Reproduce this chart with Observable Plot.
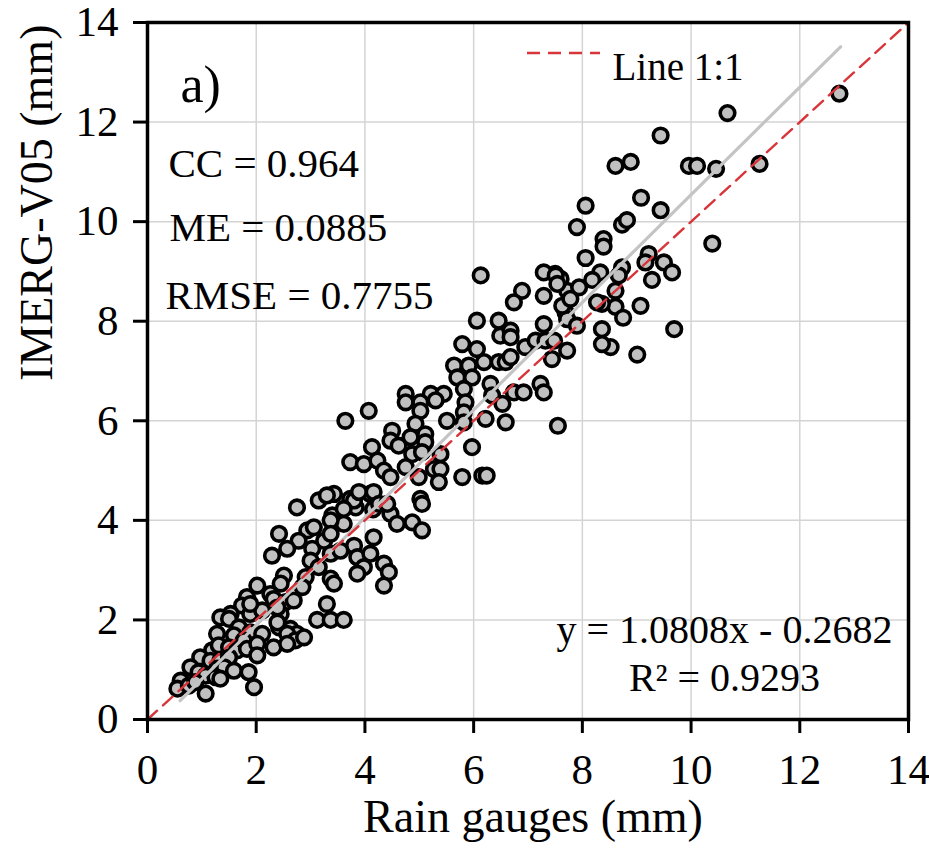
<!DOCTYPE html>
<html>
<head>
<meta charset="utf-8">
<script src="https://cdn.jsdelivr.net/npm/d3@7"></script>
<script src="https://cdn.jsdelivr.net/npm/@observablehq/plot@0.6"></script>
<style>
  html, body { margin: 0; padding: 0; background: #fff; }
  #chart { width: 929px; height: 856px; }
</style>
</head>
<body>
<div id="chart"></div>
<script>
// Rain gauge values (mm) — x
const gauge = [
12.73,10.67,9.44,8.61,8.89,9.96,10.11,10.46,11.26,8.06,9.08,9.44,7.90,8.73,8.82,8.39,8.39,10.39,8.06,7.50,
8.33,9.22,9.16,9.50,9.65,8.73,8.67,8.18,9.28,8.61,8.61,9.07,8.36,8.75,8.36,9.69,8.52,8.36,9.01,7.72,
7.94,7.60,8.27,7.69,7.72,7.90,7.72,7.55,6.13,7.29,7.51,7.54,6.89,6.74,7.29,7.63,7.78,6.06,6.46,6.49,
6.68,6.68,7.29,5.79,6.06,5.64,5.91,5.70,5.97,6.19,6.46,6.59,6.68,6.95,7.14,7.32,7.48,7.44,5.21,5.45,
5.82,5.85,6.31,6.34,6.74,6.92,7.23,7.29,5.51,5.82,5.82,6.22,6.53,6.59,4.75,4.75,5.02,5.02,5.30,4.07,
3.64,4.50,4.93,4.47,4.62,4.84,5.11,5.11,4.13,3.73,3.98,4.23,4.87,5.05,5.39,5.97,4.35,4.47,4.75,5.27,
5.39,4.99,5.36,5.79,6.16,6.24,3.43,3.73,3.83,4.10,5.02,5.05,4.15,4.47,3.40,3.61,4.59,4.87,2.75,3.15,
3.30,3.37,3.80,3.89,4.16,3.61,4.26,4.41,5.05,2.94,3.06,2.42,2.78,2.57,2.29,3.03,3.25,3.37,3.80,3.00,
3.15,3.37,3.55,3.86,3.98,4.10,4.16,4.35,4.44,3.86,4.35,3.37,3.43,2.91,2.85,2.51,2.45,2.02,2.26,2.32,
3.30,1.83,1.74,2.54,1.53,1.89,2.11,3.12,3.37,3.61,2.45,1.89,2.39,1.34,1.50,1.68,1.28,1.59,1.89,2.11,
2.42,2.63,2.75,2.69,2.39,2.57,2.72,2.88,1.19,1.31,1.50,1.65,1.77,1.83,2.02,2.02,2.32,2.57,0.97,1.16,
1.34,1.50,0.79,0.94,1.07,1.28,1.41,1.59,1.86,1.96,0.61,0.55,0.76,0.88,1.07,1.25,1.34
];
// IMERG-V05 values (mm) — y
const imerg = [
12.57,12.18,11.73,11.12,11.20,11.12,11.12,11.06,11.16,10.32,10.48,10.23,9.89,9.94,10.03,9.65,9.50,9.56,9.27,8.95,
8.98,9.35,9.18,9.18,8.98,9.08,8.92,8.83,8.83,8.61,8.29,8.31,8.35,8.07,7.84,7.84,7.48,7.54,7.33,8.61,
8.68,8.85,8.38,8.18,8.04,7.91,7.41,5.90,8.92,8.98,8.92,8.75,8.61,8.38,8.51,8.31,8.45,8.01,8.01,7.71,
7.81,7.68,7.94,7.54,7.44,7.11,7.11,6.87,6.87,7.18,7.18,7.18,7.28,7.48,7.61,7.61,7.61,7.24,6.54,6.54,
6.64,6.37,6.74,6.51,6.57,6.57,6.74,6.57,6.00,6.17,5.97,6.04,6.34,5.97,6.54,6.37,6.37,6.20,6.41,6.20,
6.00,5.80,5.94,5.60,5.50,5.67,5.73,5.57,5.47,5.17,5.13,5.20,5.33,5.37,5.33,5.47,5.00,4.87,5.07,5.03,
5.03,4.87,4.77,4.87,4.90,4.90,4.53,4.43,4.26,4.53,4.43,4.33,4.22,4.13,4.10,3.93,3.93,3.96,4.26,4.40,
4.50,4.00,4.40,4.57,4.57,4.23,4.33,4.33,3.80,3.80,3.86,3.73,3.59,3.43,3.29,3.43,3.59,3.73,3.49,3.19,
3.06,3.33,3.39,3.26,3.06,3.33,3.66,3.13,2.96,2.93,2.69,2.83,2.73,2.86,2.66,2.89,2.73,2.69,2.52,2.42,
2.32,2.46,2.29,2.36,2.12,2.12,2.19,2.00,2.00,2.00,2.12,2.32,2.25,2.05,2.02,1.85,1.72,1.69,1.75,1.72,
1.85,1.82,1.72,2.39,1.95,1.72,1.59,1.65,1.39,1.49,1.45,1.39,1.59,1.42,1.52,1.29,1.45,1.52,1.25,1.18,
1.18,1.25,1.05,0.95,0.88,1.02,1.05,0.98,0.95,0.65,0.78,0.62,0.68,0.75,0.52,0.85,0.82
];

const xTicks = [0, 2, 4, 6, 8, 10, 12, 14];
const yTicks = [0, 2, 4, 6, 8, 10, 12, 14];
const axisLimits = [0, 14];

// Fitted regression: y = 1.0808x - 0.2682, drawn over the range of the gauge data
const fitSlope = 1.0808;
const fitIntercept = -0.2682;
const fitRange = [0.6, 12.75];

const statsLines = ["CC = 0.964", "ME = 0.0885", "RMSE = 0.7755"];
const panelLabel = "a)";
const eqLines = ["y = 1.0808x - 0.2682", "R² = 0.9293"];
const legendLabel = "Line 1:1";
const xLabel = "Rain gauges (mm)";
const yLabel = "IMERG-V05 (mm)";

const points = gauge.map((g, i) => ({gauge: g, imerg: imerg[i]}));
const oneToOne = axisLimits.map(v => ({x: v, y: v}));
const fitLine = fitRange.map(v => ({x: v, y: fitSlope * v + fitIntercept}));

const FONT = "Liberation Serif, Times New Roman, serif";
const RED = "#d8353a";
const DASH = "13,8";

const plot = Plot.plot({
  width: 929,
  height: 856,
  marginLeft: 147,
  marginRight: 21,
  marginTop: 22,
  marginBottom: 137,
  style: {fontFamily: FONT, fontSize: "43px", color: "#000", background: "#fff", overflow: "visible"},
  x: {domain: axisLimits},
  y: {domain: axisLimits},
  marks: [
    Plot.gridX(xTicks, {stroke: "#d4d4d4", strokeOpacity: 1, strokeWidth: 1.5}),
    Plot.gridY(yTicks, {stroke: "#d4d4d4", strokeOpacity: 1, strokeWidth: 1.5}),
    Plot.dot(points, {x: "gauge", y: "imerg", r: 7.3, fill: "#c0c0c0", stroke: "#000", strokeWidth: 3.6}),
    Plot.line(fitLine, {x: "x", y: "y", stroke: "#c4c4c4", strokeWidth: 3.2}),
    Plot.line(oneToOne, {x: "x", y: "y", stroke: RED, strokeWidth: 2.4, strokeDasharray: DASH}),
    Plot.frame({stroke: "#000", strokeWidth: 3.5}),
    Plot.axisX({ticks: xTicks, tickSize: 14, tickPadding: 20, strokeWidth: 3, label: null, fontSize: 43, fontFamily: FONT}),
    Plot.axisY({ticks: yTicks, tickSize: 14, tickPadding: 15, strokeWidth: 3, label: null, fontSize: 43, fontFamily: FONT}),
    // axis titles
    Plot.text([xLabel], {frameAnchor: "bottom", text: d => d, dx: 5, dy: 112, fontSize: 46, fill: "#000"}),
    Plot.text([yLabel], {frameAnchor: "left", text: d => d, rotate: -90, dx: -110, dy: 10, fontSize: 46, fill: "#000"}),
    // panel label and statistics
    Plot.text([panelLabel], {frameAnchor: "top-left", text: d => d, textAnchor: "start", dx: 33, dy: 43, fontSize: 52, fill: "#000"}),
    Plot.text([statsLines[0]], {frameAnchor: "top-left", text: d => d, textAnchor: "start", dx: 21, dy: 125, fontSize: 41, fill: "#000"}),
    Plot.text([statsLines[1]], {frameAnchor: "top-left", text: d => d, textAnchor: "start", dx: 22, dy: 189, fontSize: 41, fill: "#000"}),
    Plot.text([statsLines[2]], {frameAnchor: "top-left", text: d => d, textAnchor: "start", dx: 18, dy: 257, fontSize: 41, fill: "#000"}),
    // regression equation
    Plot.text([eqLines[0]], {frameAnchor: "bottom-right", text: d => d, textAnchor: "middle", dx: -184, dy: -77, fontSize: 40, fill: "#000"}),
    Plot.text([eqLines[1]], {frameAnchor: "bottom-right", text: d => d, textAnchor: "middle", dx: -184, dy: -29, fontSize: 40, fill: "#000"}),
    // legend label
    Plot.text([legendLabel], {frameAnchor: "top-left", text: d => d, textAnchor: "start", dx: 465, dy: 30, fontSize: 39, fill: "#000"})
  ]
});

// legend swatch (dashed red line)
d3.select(plot).append("line")
  .attr("x1", 527).attr("x2", 600).attr("y1", 53).attr("y2", 53)
  .attr("stroke", RED).attr("stroke-width", 2.4).attr("stroke-dasharray", DASH);

document.getElementById("chart").appendChild(plot);
</script>
</body>
</html>
